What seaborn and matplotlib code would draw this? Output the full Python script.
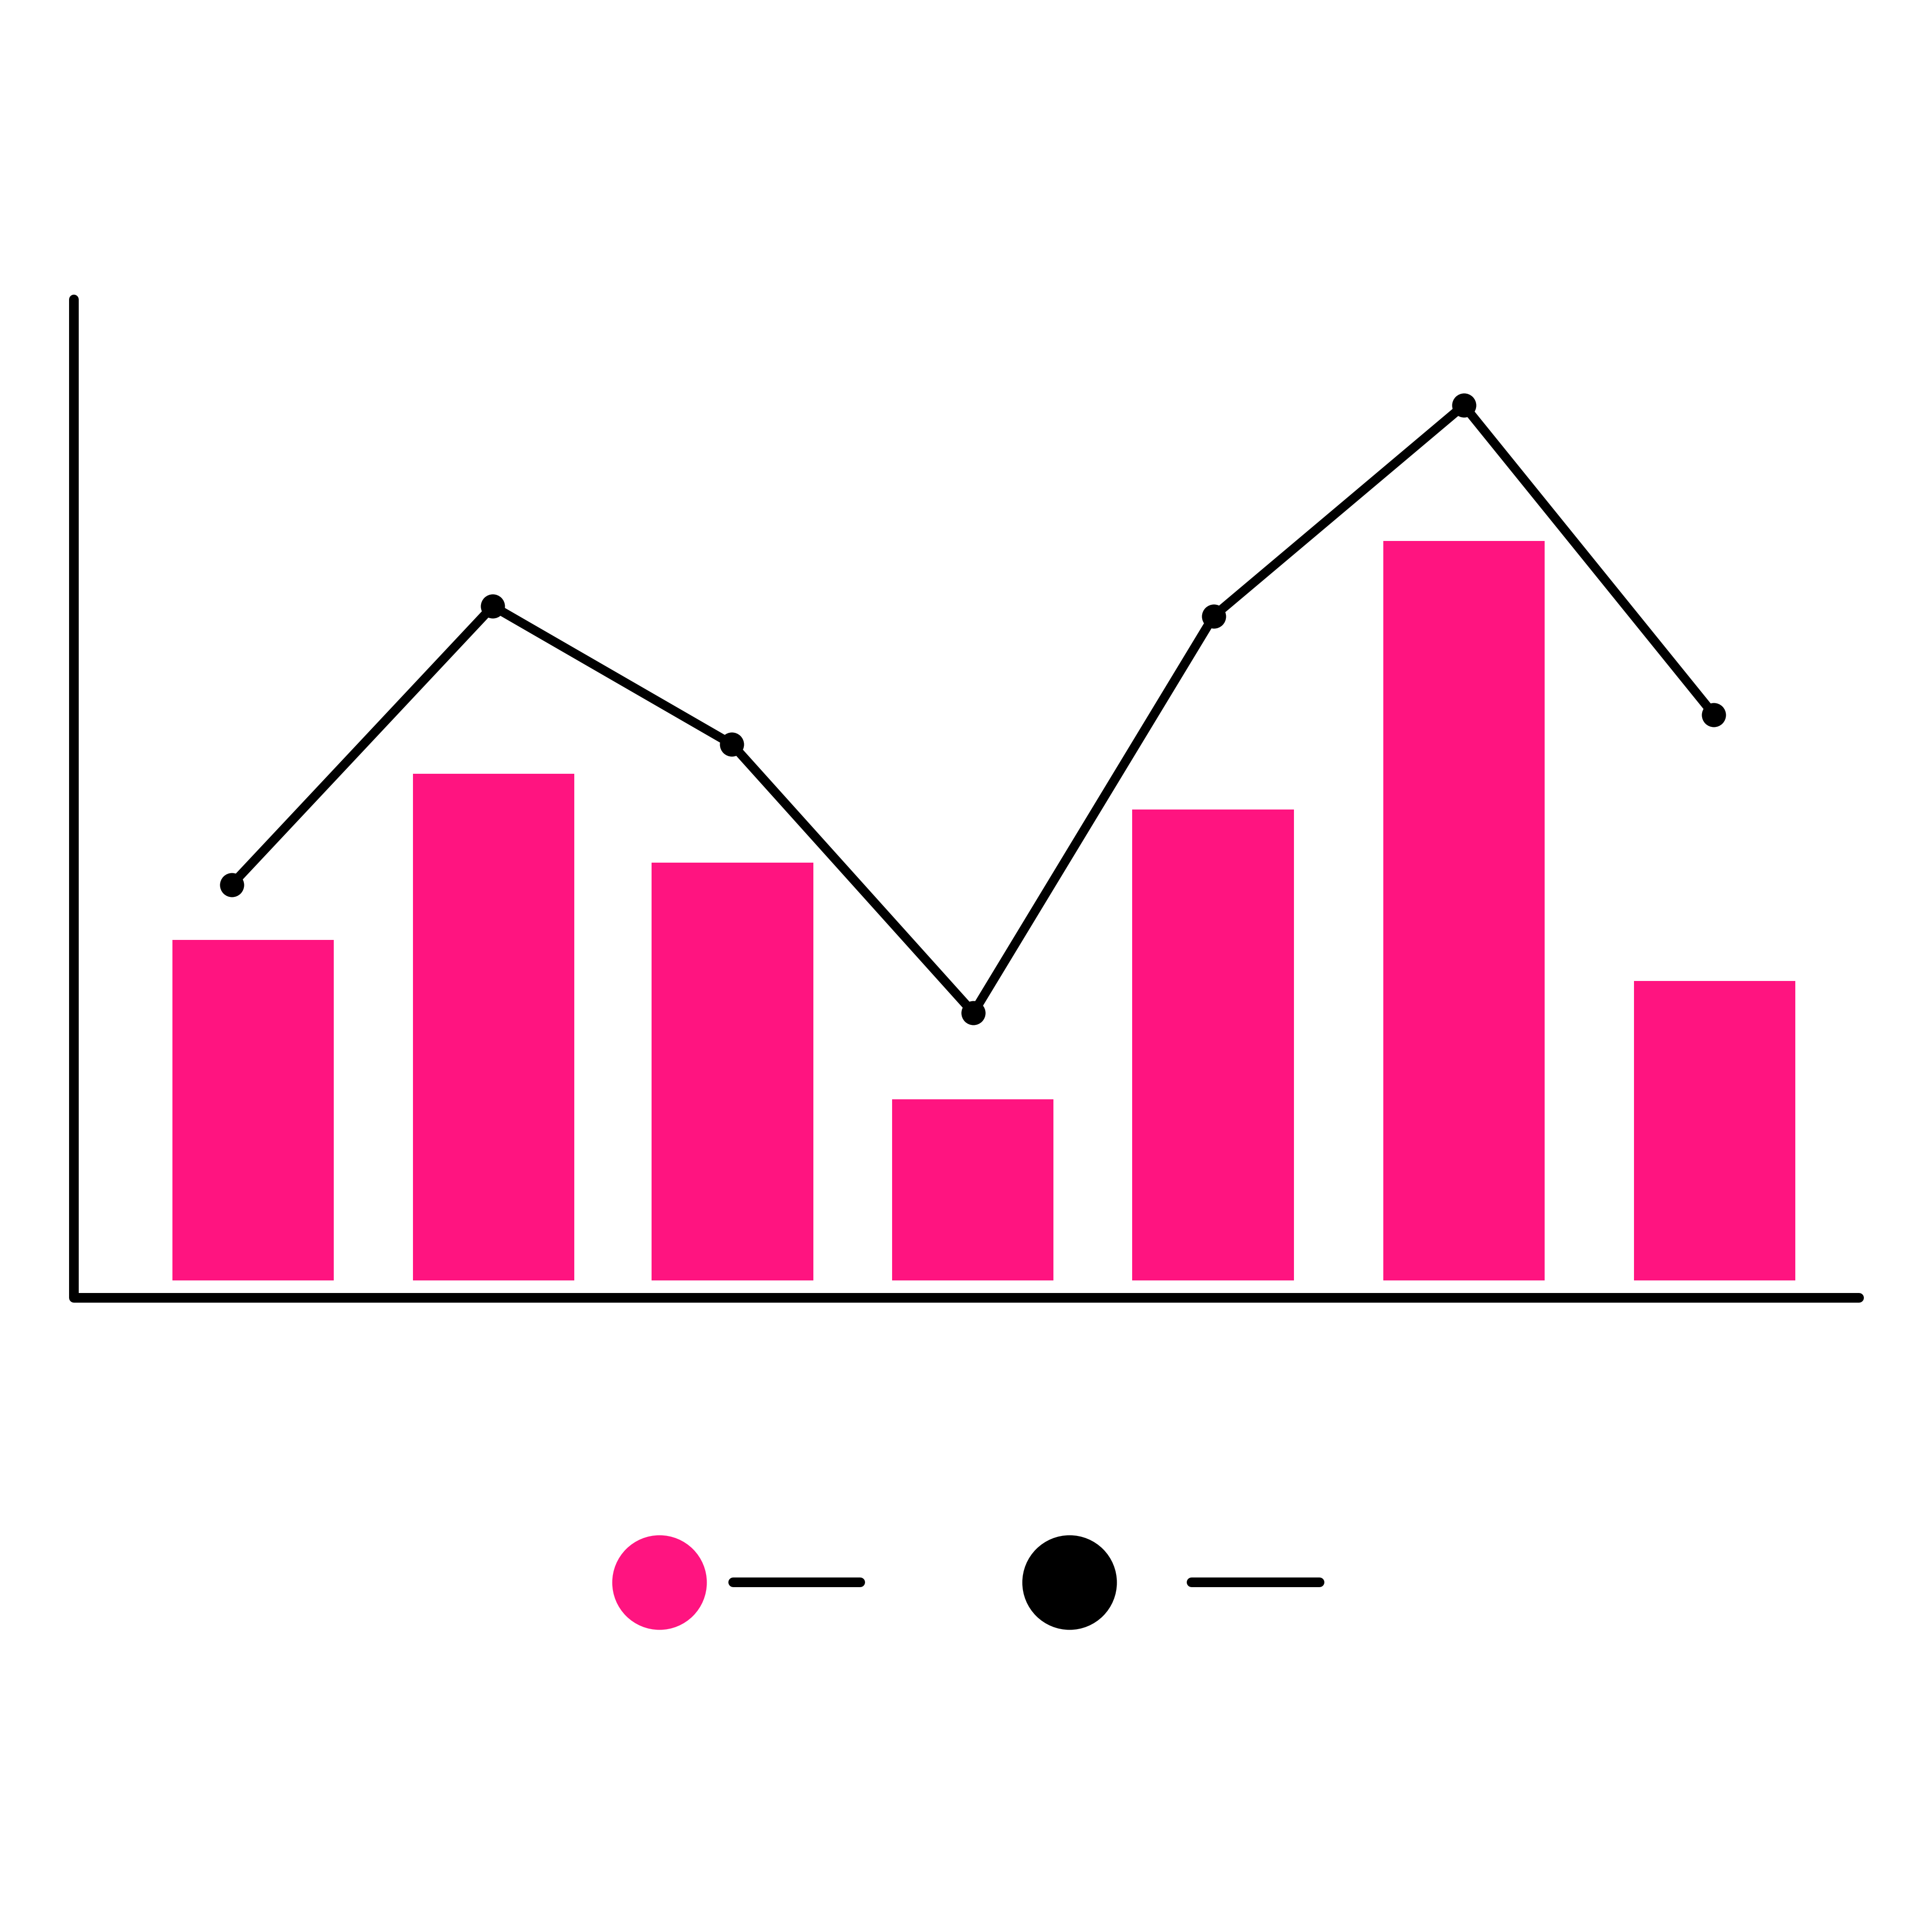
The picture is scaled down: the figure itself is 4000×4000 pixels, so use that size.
import numpy as np
import pandas as pd
import matplotlib
matplotlib.use("Agg")
import matplotlib.pyplot as plt
import seaborn as sns

# values (x = position along the axis, y = height above the bar baseline)
bar_x = [205.5, 400.5, 594.5, 789.5, 984.5, 1188, 1391.5]
bar_vals = [27.6, 41.1, 33.9, 14.7, 38.2, 60.0, 24.3]
line_x = [188, 400, 594, 790, 985, 1188, 1391]
line_vals = [32.1, 54.7, 43.5, 21.7, 53.9, 71.0, 45.9]

pink = "#FF1480"
bar_w = 131

sns.set_style("white")
fig = plt.figure(figsize=(40, 40), dpi=100)
ax = fig.add_axes([0, 0, 1, 1])

bars = pd.DataFrame({"x": bar_x, "val": bar_vals})
sns.barplot(data=bars, x="x", y="val", native_scale=True, orient="x",
            width=bar_w / np.min(np.diff(bar_x)), color=pink, saturation=1,
            linewidth=0, errorbar=None, ax=ax)

line = pd.DataFrame({"x": line_x, "val": line_vals})
sns.lineplot(data=line, x="x", y="val", color="black", linewidth=13.5,
             marker="o", markersize=36, markeredgewidth=0, ax=ax)

# axis lines with rounded ends
ax.plot([60, 60, 1509], [79.6, -1.43, -1.43], color="black", lw=14.4,
        solid_capstyle="round", solid_joinstyle="round")

# legend: swatch + placeholder bar for each series
for cx, x0, x1, c in [(0.3412, 0.3795, 0.4452, pink), (0.5536, 0.6167, 0.6830, "black")]:
    ax.plot([cx], [0.1811], marker="o", ms=141, mew=0, color=c, transform=ax.transAxes)
    ax.plot([x0, x1], [0.1811, 0.1811], color="black", lw=14.4,
            solid_capstyle="round", transform=ax.transAxes)

ax.set_xlim(0, 1568)
ax.set_ylim(-52.9, 103.9)
ax.axis("off")
fig.savefig("out.png", dpi=100, facecolor="white")
